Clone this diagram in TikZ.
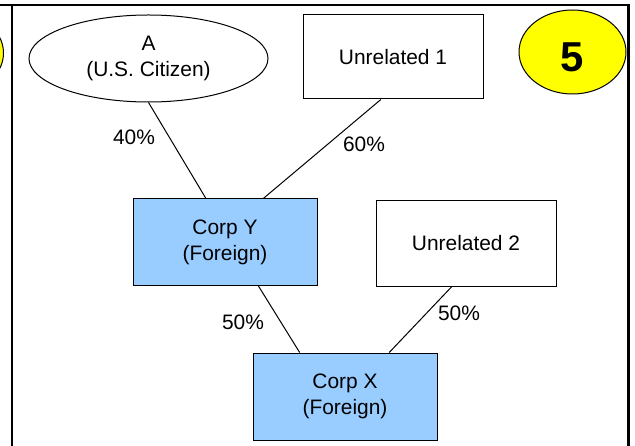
\documentclass[tikz,border=0pt]{standalone}
\usepackage{fontspec}
\setmainfont{Liberation Sans}
\usetikzlibrary{calc,shapes.geometric}
\definecolor{corpblue}{HTML}{99CCFF}
\definecolor{badgeyellow}{HTML}{FFFF00}
\begin{document}
\begin{tikzpicture}[x=1bp,y=-1bp,
  lbl/.style={font=\fontsize{21}{26}\selectfont, align=center, inner sep=0pt},
  ownerbox/.style={lbl, draw, line width=1bp, minimum width=180bp, minimum height=84bp},
  corpbox/.style={ownerbox, fill=corpblue, minimum width=184bp, minimum height=86bp},
  person/.style={lbl, ellipse, draw, line width=1bp, minimum width=239bp, minimum height=87bp},
  link/.style={line width=1bp},
  pct/.style={font=\fontsize{21}{26}\selectfont, inner sep=0pt},
  badge/.style={ellipse, draw, line width=1bp, fill=badgeyellow, inner sep=0pt,
                minimum width=107bp, minimum height=84bp, text height=40bp, text depth=0bp,
                font=\fontsize{42}{42}\selectfont\bfseries},
  frameline/.style={line width=2.5bp}]
\useasboundingbox (0,0) rectangle (635,446);

% badge of the preceding panel, mostly cut off
\begin{scope}
  \clip (0,0) rectangle (635,446);
  \node[badge] (prevbadge) at (-50,53) {};
\end{scope}

% panel frame
\draw[frameline] (0,5) -- (629.5,5);
\draw[frameline] (12,5) -- (12,446);
\draw[frameline] (628.5,5) -- (628.5,446);

% owners and corporations
\node[person] (A) at (148.5,58.5) {A\\(U.S. Citizen)};
\node[ownerbox] (U1) at (393,57) {Unrelated 1};
\node[badge] (badge) at (572.5,52) {5};
\node[corpbox] (CY) at (225,242) {Corp Y\\(Foreign)};
\node[ownerbox, minimum height=85bp] (U2) at (466,243.5) {Unrelated 2};
\node[corpbox, minimum height=87bp] (CX) at (345,396.5) {Corp X\\(Foreign)};

% ownership links
\draw[link] (A.south) -- ($(CY.north west)!0.397!(CY.north east)$);
\draw[link] ($(U1.south west)!0.433!(U1.south east)$) -- ($(CY.north west)!0.707!(CY.north east)$);
\draw[link] ($(CY.south west)!0.679!(CY.south east)$) -- ($(CX.north west)!0.255!(CX.north east)$);
\draw[link] ($(U2.south west)!0.422!(U2.south east)$) -- ($(CX.north west)!0.739!(CX.north east)$);

% ownership shares
\node[pct] (pA) at (134,137) {40\%};
\node[pct] (pU1) at (364,144) {60\%};
\node[pct] (pCY) at (243,322) {50\%};
\node[pct] (pU2) at (459,313) {50\%};
\end{tikzpicture}
\end{document}
